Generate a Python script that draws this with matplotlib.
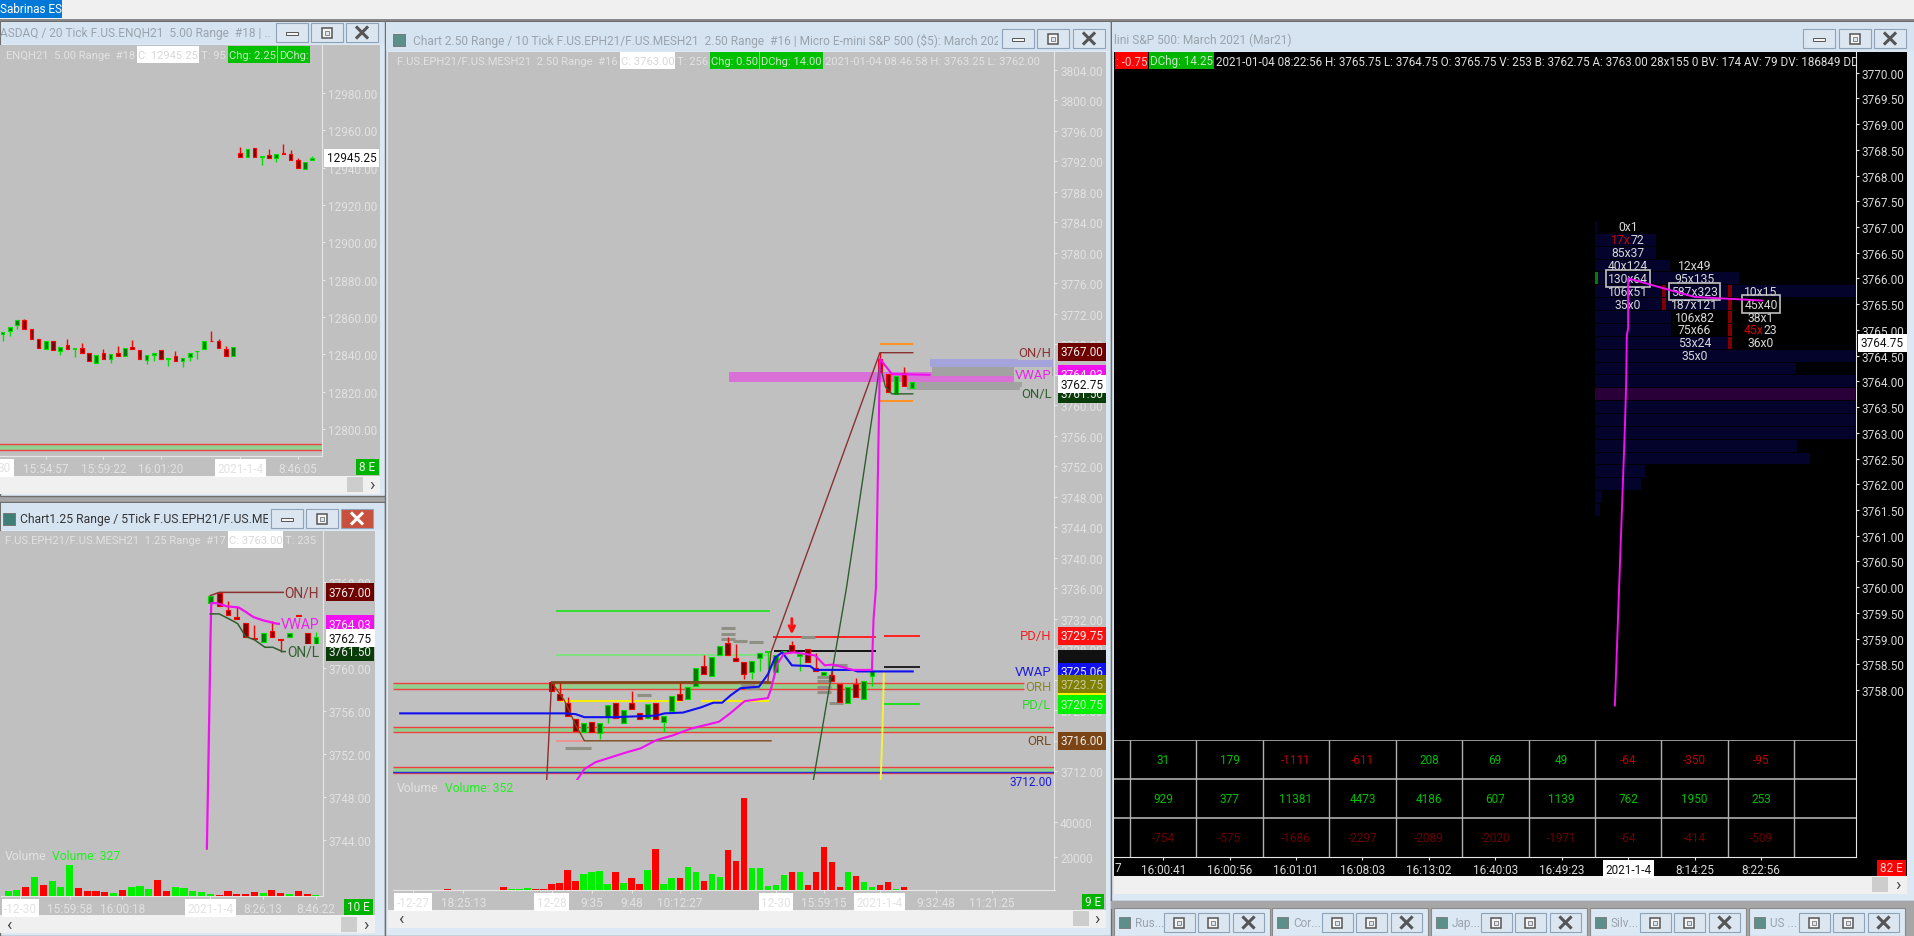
import matplotlib
matplotlib.use("Agg")
import matplotlib.pyplot as plt
from matplotlib.patches import Rectangle

plt.rcParams["font.family"] = ["Roboto", "DejaVu Sans"]

W, H = 1915, 937
CHART_BG = "#c0c0c0"
FRAME = "#dce8f3"
TITLE = "#d6e4f1"
AXIS_LINE = "#e6e6e6"
TICK_TEXT = "#e2e2e2"
UP, UP_DARK = "#00e000", "#007a00"
DOWN, DOWN_DARK = "#ff0000", "#7a0000"
FS = 8.5

# --- NQ window
nq_open = [12851, 12852.7, 12855.5, 12858.6, 12853.4, 12848, 12842.7, 12847, 12842, 12844.8, 12842.9,
           12843.4, 12840.9, 12835.5, 12840.5, 12837.7, 12840.9, 12839.1, 12844.1, 12842.3, 12837, 12839.5,
           12842.3, 12837.3, 12838.9, 12836.3, 12838.4, 12841.6, 12842.7, 12847.3, 12847, 12842.7, 12839.1,
           12948, 12945.5, 12950.7, 12945.7, 12947, 12945.2, 12948, 12947.5, 12943.9, 12939.1, 12943.9]
nq_high = [12852, 12854.8, 12858.2, 12859, 12853.4, 12848, 12847, 12847, 12843.9, 12848.4, 12843.4,
           12846.3, 12840.9, 12839.8, 12843, 12840.4, 12844.5, 12843.4, 12847.5, 12842.3, 12839.5, 12840.9,
           12842.3, 12838, 12841.6, 12838, 12840.9, 12842, 12847, 12852.3, 12848.4, 12844.5, 12843.8,
           12951, 12950.2, 12950.7, 12946.3, 12950.2, 12947.5, 12952.9, 12949.5, 12945.2, 12943, 12946.3]
nq_low = [12847, 12850, 12853.8, 12853.8, 12848.4, 12843.4, 12842.7, 12842.5, 12839.8, 12843, 12838.6,
          12840.9, 12836.3, 12835.5, 12837.7, 12835.5, 12839.1, 12839.1, 12842.7, 12837.3, 12834.8, 12836.6,
          12837.3, 12833.8, 12836.3, 12833.4, 12836.3, 12837.7, 12842.7, 12847, 12843.4, 12839.1, 12839.1,
          12945.9, 12945.5, 12945.9, 12941.6, 12945, 12943, 12947.5, 12944.1, 12939.8, 12939.1, 12943.9]
nq_close = [12852, 12854.8, 12858.2, 12853.8, 12848.4, 12843.4, 12847, 12842.5, 12843.9, 12843, 12843.4,
            12840.9, 12836.3, 12839.8, 12837.7, 12840.4, 12839.1, 12843.4, 12842.7, 12837.3, 12839.5, 12840.9,
            12837.3, 12838, 12836.3, 12838, 12840.9, 12842, 12847, 12847, 12843.4, 12839.1, 12843.8,
            12945.9, 12950.2, 12945.9, 12946.3, 12945, 12947.5, 12947.5, 12944.1, 12939.8, 12943, 12945.4]
nq_ticks = [12980, 12960, 12940, 12920, 12900, 12880, 12860, 12840, 12820, 12800]
nq_xticks = [6, 14, 22, 33, 41]
nq_xlabels = ["15:54:57", "15:59:22", "16:01:20", "2021-1-4", "8:46:05"]

# --- 1.25 range window
r125_start = 23
r125_open = [3766.0, 3766.9, 3765.4, 3764.7, 3764.2, 3762.8, 3762.4, 3763.4, 3762.7, 3762.9, 3764.9, 3763.2, 3762.2]
r125_high = [3766.7, 3767.0, 3766.2, 3765.6, 3764.2, 3764.0, 3763.2, 3764.3, 3762.7, 3763.2, 3764.9, 3763.2, 3763.3]
r125_low = [3766.0, 3765.7, 3764.9, 3764.5, 3762.9, 3762.7, 3762.4, 3762.9, 3761.5, 3762.9, 3764.8, 3762.2, 3762.2]
r125_close = [3766.7, 3765.7, 3764.9, 3764.5, 3762.9, 3762.7, 3763.2, 3762.9, 3762.6, 3763.2, 3764.8, 3762.2, 3762.9]
r125_vol = [1600, 1800, 2800, 5700, 3300, 4500, 2600, 9300, 2400, 1600, 1400, 1100, 800, 1800, 2600, 3000, 2100, 4800,
            1600, 2800, 2400, 1400, 1100, 600, 400, 1400, 700, 700, 1100, 800, 1800, 900, 600, 1400, 600, 327]
r125_up = [1, 1, 0, 1, 0, 1, 1, 1, 0, 0, 0, 0, 1, 0, 1, 1, 1, 0, 0, 1, 1, 1, 1, 1, 0, 0, 0, 0, 0, 1, 0, 0, 1, 0, 0, 1]
r125_vwap_x = [22.6, 22.7, 22.8, 22.9, 23.0, 23.1, 23.7, 24.9, 26.2, 27.0, 27.9, 29.0, 30.5, 31.7]
r125_vwap_y = [3743.2, 3747.7, 3752.3, 3757.0, 3762.3, 3766.0, 3766.0, 3765.7, 3765.6, 3765.2, 3764.7, 3764.4, 3764.1, 3764.03]
r125_onh_x = [23.0, 24.0, 32.0]
r125_onh_y = [3766.7, 3767.0, 3767.0]
r125_onl_x = [23.0, 24.0, 25.2, 26.1, 27.0, 28.0, 29.2, 30.1, 31.2, 32.2]
r125_onl_y = [3765.0, 3765.0, 3764.5, 3764.1, 3762.9, 3762.6, 3761.9, 3761.9, 3761.5, 3761.5]
r125_ticks = [3768, 3760, 3756, 3752, 3748, 3744]
r125_xticks = [1.4, 7, 13, 23, 29, 35]
r125_xlabels = ["-12-30", "15:59:58", "16:00:18", "2021-1-4", "8:26:13", "8:46:22"]

# --- 2.50 range window
r250_start = 19
r250_open = [3723.7, 3722.2, 3721.0, 3718.8, 3717.1, 3718.5, 3717.0, 3719.1, 3721.0, 3718.3, 3721.0, 3719.7, 3719.0, 3721.0,
             3718.5, 3719.9, 3722.2, 3721.5, 3723.2, 3725.8, 3724.5, 3727.3, 3728.8, 3726.8, 3726.3, 3725.0, 3726.8, 3727.6,
             3725.0, 3727.6, 3728.5, 3727.1, 3728.0, 3725.5, 3724.6, 3724.6, 3723.5, 3721.0, 3723.5, 3721.5, 3724.5,
             3766.1, 3764.1, 3761.5, 3764.2, 3762.3]
r250_high = [3723.7, 3723.7, 3721.7, 3718.8, 3718.3, 3718.5, 3718.3, 3720.7, 3721.0, 3720.1, 3722.5, 3719.7, 3720.8, 3721.0,
             3719.3, 3721.9, 3723.7, 3723.0, 3725.5, 3727.2, 3727.0, 3728.4, 3729.6, 3728.7, 3726.3, 3726.5, 3727.5, 3727.8,
             3727.2, 3727.8, 3729.1, 3727.4, 3728.0, 3727.5, 3725.0, 3725.4, 3723.5, 3723.1, 3724.2, 3723.8, 3725.6,
             3767.0, 3764.1, 3763.9, 3765.0, 3763.0]
r250_low = [3722.5, 3721.3, 3719.2, 3717.3, 3717.1, 3717.2, 3716.3, 3718.4, 3719.0, 3718.3, 3720.2, 3718.9, 3719.0, 3718.8,
            3717.1, 3719.9, 3721.4, 3721.5, 3723.2, 3724.8, 3724.5, 3727.3, 3727.2, 3726.5, 3724.1, 3724.1, 3725.2, 3725.4,
            3725.0, 3727.6, 3727.6, 3725.2, 3726.4, 3725.1, 3724.6, 3723.8, 3721.1, 3721.0, 3721.7, 3721.5, 3723.2,
            3764.4, 3761.7, 3761.5, 3762.5, 3762.3]
r250_close = [3722.5, 3721.3, 3719.2, 3717.3, 3718.3, 3717.2, 3718.3, 3720.7, 3719.0, 3720.1, 3720.2, 3718.9, 3720.8, 3718.8,
              3719.3, 3721.9, 3721.4, 3723.0, 3725.5, 3724.8, 3727.0, 3728.4, 3727.2, 3726.5, 3724.8, 3726.5, 3727.5, 3727.8,
              3727.2, 3727.8, 3727.6, 3727.4, 3726.4, 3725.1, 3725.0, 3723.8, 3721.1, 3723.1, 3721.7, 3723.8, 3725.1,
              3764.4, 3761.7, 3763.9, 3762.5, 3763.0]
r250_vol = [760, 760, 760, 570, 380, 950, 1330, 760, 760, 760, 760, 760, 760, 2470, 1520, 1520, 2280, 1330, 1330, 4180, 5130,
            12350, 6080, 9880, 11020, 11970, 4180, 11020, 4750, 7980, 4180, 12350, 24320, 4180, 7600, 7600, 14250, 11020,
            6080, 9880, 8360, 23750, 17480, 53580, 13680, 13300, 3420, 3800, 9500, 11020, 11400, 3800, 11020, 25270, 17100,
            2850, 11020, 8740, 5700, 2660, 3800, 5320, 1520, 2660, 760]
r250_up = [1, 1, 1, 0, 1, 0, 0, 1, 1, 1, 0, 0, 1, 0, 1, 1, 1, 0, 0, 0, 0,
           0, 0, 1, 1, 1, 1, 0, 1, 0, 0, 1, 0, 1, 1, 0, 1, 1,
           0, 1, 1, 0, 0, 0, 1, 1, 1, 1, 1, 0, 1, 0, 0, 0, 0,
           0, 1, 0, 1, 1, 0, 0, 1, 0, 1]
r250_ticks = list(range(3804, 3708, -4))
r250_xticks = [1.7, 8, 19, 24, 29, 35, 47, 53, 60, 67, 74]
r250_xlabels = ["-12-27", "18:25:13", "12-28", "9:35", "9:48", "10:12:27", "12-30", "15:59:15", "2021-1-4", "9:32:48", "11:21:25"]
vwap_x = [22.2, 23.1, 24.5, 26.3, 28.4, 30.1, 32.1, 34.1, 36.4, 39.9, 41.3, 43.1, 46.0, 46.4, 47.2, 48.0, 49.2, 51.9, 53.1, 54.2, 56.6, 59.0, 59.2, 59.5, 60.0, 61.5, 66.2]
vwap_y = [3710.9, 3712.3, 3713.2, 3713.8, 3714.5, 3715.0, 3716.1, 3716.7, 3717.6, 3718.5, 3719.6, 3721.2, 3721.6, 3722.8, 3726.1, 3727.4, 3727.6, 3727.2, 3725.9, 3726.0, 3725.3, 3725.3, 3731.9, 3736.0, 3766.1, 3764.1, 3764.0]
blue_x = [0.1, 20.6, 22.0, 23.1, 26.7, 32.0, 33.1, 35.4, 37.7, 39.2, 40.3, 41.4, 42.6, 44.9, 46.0, 46.9, 47.8, 49.0, 51.3, 51.9, 56.6, 57.2, 64.1]
blue_y = [3719.6, 3719.6, 3719.5, 3719.1, 3719.1, 3719.3, 3719.6, 3719.7, 3720.4, 3721.0, 3721.0, 3722.0, 3722.9, 3723.1, 3724.7, 3726.9, 3727.6, 3725.9, 3725.8, 3725.3, 3725.3, 3725.1, 3725.1]
onh_x = [18.4, 19.0, 46.0, 46.4, 60.0, 64.1]
onh_y = [3710.9, 3723.7, 3723.7, 3727.6, 3766.9, 3766.9]
onl_x = [51.7, 55.8, 60.0, 60.7, 61.5, 64.1]
onl_y = [3710.9, 3735.9, 3765.3, 3762.4, 3761.5, 3761.5]
orl_x = [19.0, 20.6, 22.0, 23.1, 46.4]
orl_y = [3723.7, 3721.3, 3718.1, 3716.0, 3716.0]
band_low = [3763.1, 3765.0, 3763.8, 3762.0]
band_high = [3764.4, 3766.1, 3765.0, 3763.1]
band_from = [41.2, 66.2, 66.5, 63.4]
band_to = [77.1, 81.6, 81.6, 77.7]
band_color = ["#d870d8", "#a4a4da", "#a2a2a2", "#a2a2a2"]
seg_price = [3733.0, 3727.25, 3727.78, 3729.57, 3729.8, 3725.7, 3720.87, 3768.1, 3760.6, 3721.27, 3721.27, 3716.0]
seg_from = [19.5, 19.5, 46.8, 46.6, 60.5, 60.5, 60.5, 60.0, 60.0, 20.1, 37.7, 19.5]
seg_to = [46.3, 46.3, 59.5, 59.5, 65.0, 65.0, 65.0, 64.1, 64.1, 35.3, 46.1, 23.1]
seg_color = ["#30e030", "#80e080", "#111111", "#ff2020", "#ff2020", "#222222", "#20e020", "#ff9020", "#ff9020",
             "#f8f000", "#f8f000", "#f09090"]
level_low = [3722.8, 3717.2, 3711.74]
level_high = [3723.54, 3717.77, 3712.5]
level_end = [78.0, 81.8, 81.8]
grey_x = [41.0, 41.0, 41.0, 42.5, 44.5, 43.0, 43.5, 44.0, 53.0, 53.0, 53.0, 53.0, 55.0, 21.5, 23.0, 30.5, 51.0, 54.5]
grey_y = [3730.8, 3730.0, 3729.4, 3729.1, 3729.0, 3723.7, 3723.3, 3722.9, 3724.4, 3723.8, 3723.0, 3722.4, 3725.9, 3715.1, 3715.1, 3722.0, 3729.6, 3720.9]
yellow_x = [60.1, 60.3, 60.5]
yellow_y = [3711.0, 3716.8, 3725.1]

# --- footprint window
fp_price = [3767, 3766.75, 3766.5, 3766.25, 3766, 3765.75, 3765.5, 3765.25, 3765, 3764.75, 3764.5, 3764.25, 3764, 3763.75,
            3763.5, 3763.25, 3763, 3762.75, 3762.5, 3762.25, 3762, 3761.75, 3761.5]
fp_len = [0.03, 0.92, 0.92, 1.13, 2.17, 3.91, 2.0, 1.15, 1.15, 2.0, 3.91, 3.02, 3.91, 3.91, 3.91, 3.91, 3.91, 3.04, 3.23, 0.76, 0.7, 0.1, 0.07]
fp_col0 = ["0x1", "17x72", "85x37", "40x124", "130x64", "106x51", "35x0"]
fp_col0_price = [3767, 3766.75, 3766.5, 3766.25, 3766, 3765.75, 3765.5]
fp_col1 = ["12x49", "95x135", "587x323", "187x121", "106x82", "75x66", "53x24", "35x0"]
fp_col1_price = [3766.25, 3766, 3765.75, 3765.5, 3765.25, 3765, 3764.75, 3764.5]
fp_col2 = ["10x15", "45x40", "38x1", "45x23", "36x0"]
fp_col2_price = [3765.75, 3765.5, 3765.25, 3765, 3764.75]
fp_red_cells = ["17x72", "45x23"]
fp_vwap_x = [9.02, 8.58, 8.0, 7.0, 7.0, 6.98, 6.97, 6.95, 6.86, 6.8]
fp_vwap_y = [3765.57, 3765.6, 3765.64, 3766.0, 3765.03, 3764.9, 3763.95, 3763.07, 3759.85, 3757.7]
fp_ticks = [3770 - 0.5 * k for k in range(25)]
delta_row = [31, 179, -1111, -611, 208, 69, 49, -64, -350, -95]
volume_row = [929, 377, 11381, 4473, 4186, 607, 1139, 762, 1950, 253]
mindelta_row = [-754, -575, -1686, -2297, -2089, -2020, -1971, -64, -414, -509]
fp_xlabels = ["16:00:41", "16:00:56", "16:01:01", "16:08:03", "16:13:02", "16:40:03", "16:49:23", "2021-1-4", "8:14:25", "8:22:56"]

tab_names = ["Rus...", "Cor...", "Jap...", "Silv...", "US ..."]
tab_left = [1114, 1272, 1431, 1590, 1749]

fig = plt.figure(figsize=(W / 100, H / 100), dpi=100, facecolor="#a6a6a6")
bg = fig.add_axes([0, 0, 1, 1], zorder=0)
bg.set_xlim(0, W)
bg.set_ylim(H, 0)
bg.axis("off")


def pane(left, top, right, bottom, zorder=2):
    ax = fig.add_axes([left / W, 1 - bottom / H, (right - left) / W, (bottom - top) / H], zorder=zorder)
    ax.patch.set_alpha(0)
    for side in ["top", "left"]:
        ax.spines[side].set_visible(False)
    ax.spines["right"].set_color(AXIS_LINE)
    ax.spines["bottom"].set_color(AXIS_LINE)
    ax.yaxis.tick_right()
    ax.tick_params(axis="both", colors=AXIS_LINE, labelcolor=TICK_TEXT, labelsize=FS, length=2, pad=2, width=0.8)
    return ax


def rect(x0, y0, x1, y1, color, ec="none", lw=0, z=1):
    bg.add_patch(Rectangle((x0, y0), x1 - x0, y1 - y0, facecolor=color, edgecolor=ec, linewidth=lw, zorder=z))


def button(bx, by, kind, face="#dbe6f1", w=32, h=19):
    rect(bx, by, bx + w, by + h, face, ec="#8fa3b8", lw=0.8, z=4)
    cx, cy = bx + w / 2, by + h / 2
    if kind == 0:
        rect(cx - 6, cy - 1, cx + 6, cy + 2, "#f4f4f4", ec="#555555", lw=0.7, z=5)
    elif kind == 1:
        rect(cx - 5, cy - 5, cx + 5, cy + 5, "#f4f4f4", ec="#555555", lw=1.1, z=5)
        rect(cx - 2, cy - 2, cx + 2, cy + 2, face, ec="#777777", lw=0.6, z=6)
    else:
        mark = "white" if face != "#dbe6f1" else "#555555"
        bg.plot([cx - 5, cx + 5], [cy - 5, cy + 5], color=mark, lw=2.2, zorder=5)
        bg.plot([cx - 5, cx + 5], [cy + 5, cy - 5], color=mark, lw=2.2, zorder=5)


def window(x0, y0, x1, y1, chart_top, chart_bottom, chart_right, title, title_x, title_y, title_end, title_color, btn_x, btn_y,
           chart_color=CHART_BG, close_color=None, title_size=8.6):
    rect(x0, y0, x1, y1, FRAME, ec="#6e6e6e", lw=1)
    rect(x0 + 1, y0 + 1, x1 - 1, chart_top - 1, TITLE)
    t = bg.text(title_x, title_y, title, color=title_color, fontsize=title_size, va="center", zorder=3)
    t.set_clip_path(Rectangle((0, 0), title_end, H, transform=bg.transData))
    t.set_clip_on(True)
    for k, bx in enumerate(btn_x):
        button(bx, btn_y, k, close_color if (k == 2 and close_color) else "#dbe6f1")
    left = x0 + 3 if x0 else 0
    rect(left, chart_top, chart_right, chart_bottom, chart_color, z=1.5)
    rect(left, chart_bottom, chart_right, chart_bottom + 18, "#f0f0f0", z=1.5)


def scroll_marks(right_x, y, left_x=None, thumb_x=None):
    if thumb_x:
        rect(thumb_x, y + 1, thumb_x + 16, y + 16, "#cdcdcd", z=2)
    bg.text(right_x, y + 8, "›", color="#444444", fontsize=13, ha="center", va="center", zorder=3)
    if left_x:
        bg.text(left_x, y + 8, "‹", color="#444444", fontsize=13, ha="center", va="center", zorder=3)


def candles(ax, opens, highs, lows, closes, start=0, width=0.55):
    for k in range(len(opens)):
        x = start + k
        up = closes[k] >= opens[k]
        bright = UP if up else DOWN
        dark = UP_DARK if up else DOWN_DARK
        ax.vlines(x, lows[k], highs[k], color=bright, linewidth=1.0, zorder=4)
        ax.bar(x, abs(closes[k] - opens[k]), bottom=min(opens[k], closes[k]), width=width,
               color=dark, edgecolor=bright, linewidth=0.8, zorder=5)


def volume(ax, values, ups):
    colors = ["#00f000" if u else "#ff0000" for u in ups]
    ax.bar(range(len(values)), values, width=0.8, color=colors, zorder=3)


def tag(ax, price, label, bg_color, fg="#eeeeee", z=8, dx=6):
    ax.annotate(label, xy=(1, price), xycoords=("axes fraction", "data"), xytext=(dx, 0), textcoords="offset pixels",
                color=fg, fontsize=FS, ha="left", va="center", zorder=z, annotation_clip=False,
                bbox=dict(boxstyle="square,pad=0.22", facecolor=bg_color, edgecolor="none"))


def line_label(ax, price, label, color, dx=-3, size=FS + 0.9, z=7):
    ax.annotate(label, xy=(1, price), xycoords=("axes fraction", "data"), xytext=(dx, 0), textcoords="offset pixels",
                color=color, fontsize=size, ha="right", va="center", zorder=z, annotation_clip=False,
                bbox=dict(boxstyle="square,pad=0.05", facecolor=CHART_BG, edgecolor="none"))


def style_xlabels(ax, ticks, labels, color=TICK_TEXT):
    ax.set_xticks(ticks)
    ax.set_xticklabels(labels)
    for t in ax.get_xticklabels():
        txt = t.get_text()
        t.set_color(color)
        if "-" in txt:
            t.set_bbox(dict(boxstyle="square,pad=0.2", facecolor="white", edgecolor="none"))
        if txt == "2021-1-4" and color != TICK_TEXT:
            t.set_color("#111111")


def header(x, y, parts, clip_right, size=8.1):
    renderer = fig.canvas.get_renderer()
    for text, face, color in parts:
        t = bg.text(x, y, text, fontsize=size, color=color, va="center", ha="left", zorder=6)
        t.set_clip_path(Rectangle((0, 0), clip_right, H, transform=bg.transData))
        t.set_clip_on(True)
        width = t.get_window_extent(renderer).width
        if face:
            rect(x - 1, y - 9, x + width + 1, y + 8, face, z=5)
        x += width + 3


# background strips
rect(0, 0, W, 20, "#f0f0f0")
rect(0, 19.5, W, 22, "#8a8a8a")
rect(0, 0, 62, 19, "#0078d7", z=2)
bg.text(0, 9.5, "Sabrinas ES", color="white", fontsize=8.5, va="center", zorder=3)

# window frames
window(0, 22, 389, 497, 46, 477, 380, "ASDAQ / 20 Tick F.US.ENQH21  5.00 Range  #18 | ...", 0, 34, 272, "#9aa3ad", [276, 311, 346], 24)
window(0, 503, 385, 937, 532, 916, 375, "Chart1.25 Range / 5Tick F.US.EPH21/F.US.MES...", 20, 520, 268, "#333333", [271, 306, 341], 510,
       close_color="#c9503c", title_size=8.7)
window(385, 22, 1111, 937, 53, 911, 1106, "Chart 2.50 Range / 10 Tick F.US.EPH21/F.US.MESH21  2.50 Range  #16 | Micro E-mini S&P 500 ($5): March 202...", 413, 40.5, 998, "#9aa3ad", [1002, 1037, 1073], 30)
window(1111, 22, 1915, 902, 53, 877, 1907, "lini S&P 500: March 2021 (Mar21)", 1114, 40.5, 1500, "#9aa3ad", [1803, 1839, 1874], 30, chart_color="#000000")
bg.add_patch(Rectangle((393, 35), 12, 12, facecolor="#5c8f8a", edgecolor="#777777", linewidth=0.7, zorder=3))
bg.add_patch(Rectangle((3, 514), 12, 12, facecolor="#3f7f78", edgecolor="#777777", linewidth=0.7, zorder=3))
scroll_marks(372, 477, thumb_x=347)
scroll_marks(366, 917, left_x=9, thumb_x=341)
scroll_marks(1097, 911, left_x=401, thumb_x=1073)
scroll_marks(1898, 877, thumb_x=1872)

# minimised windows
rect(1111, 902, W, 910, "#a6a6a6", z=2)
for name, left in zip(tab_names, tab_left):
    rect(left, 909, left + 156, 937, FRAME, ec="#8a8a8a", lw=0.8, z=3)
    rect(left + 5, 918, left + 16, 929, "#5c8f8a", ec="#777777", lw=0.6, z=4)
    bg.text(left + 21, 924, name, color="#9aa3ad", fontsize=FS, va="center", zorder=4)
    for kind, off in zip([1, 1, 2], [50, 84, 119]):
        button(left + off, 914, kind, h=19, w=31)

# --- NQ chart
ax_nq = pane(0, 46, 322, 457)
ax_nq.set_xlim(-0.37, 44.35)
ax_nq.set_ylim(12785.6, 13005.7)
candles(ax_nq, nq_open, nq_high, nq_low, nq_close, width=0.5)
ax_nq.axhspan(12788.6, 12791.8, facecolor="#90d090", edgecolor="none", zorder=2)
ax_nq.axhline(12791.8, color="#f04040", lw=1)
ax_nq.axhline(12788.6, color="#f04040", lw=1)
ax_nq.set_yticks(nq_ticks)
ax_nq.set_yticklabels([f"{t:.2f}" for t in nq_ticks])
style_xlabels(ax_nq, nq_xticks, nq_xlabels)
tag(ax_nq, 12945.25, "12945.25", "white", fg="#111111", dx=5)
bg.text(4, 469, "30", color=TICK_TEXT, fontsize=FS, ha="center", va="center", zorder=6,
        bbox=dict(boxstyle="square,pad=0.25", facecolor="white", edgecolor="none"))
rect(356, 460, 379, 476, "#00b400", z=3)
bg.text(367, 468, "8 E", color="#eeeeee", fontsize=FS, ha="center", va="center", zorder=4)
header(3, 56, [(".ENQH21  5.00 Range  #18", None, TICK_TEXT), ("C: 12945.25", "white", "#d8d8d8"),
               ("T: 95", None, TICK_TEXT), ("Chg: 2.25", "#00c000", "#c8e8c8"), ("DChg:", "#00c000", "#c8e8c8")], 322)

# --- 1.25 range chart
ax_a = pane(1, 532, 323, 897)
ax_a.set_xlim(-0.8, 35.8)
ax_a.set_ylim(3738.8, 3772.7)
candles(ax_a, r125_open, r125_high, r125_low, r125_close, start=r125_start)
ax_a.plot(r125_vwap_x, r125_vwap_y, color="#f010f0", lw=1.6, zorder=6)
ax_a.plot(r125_onh_x, r125_onh_y, color="#8a3030", lw=1.1, zorder=6)
ax_a.plot(r125_onl_x, r125_onl_y, color="#2e5e2e", lw=1.1, zorder=6)
ax_a.spines["bottom"].set_visible(False)
ax_a.set_yticks(r125_ticks)
ax_a.set_yticklabels([f"{t:.2f}" for t in r125_ticks])
ax_a.set_xticks([])
line_label(ax_a, 3767.0, "ON/H", "#8a3030", dx=-4, size=FS + 1.4)
line_label(ax_a, 3764.03, "VWAP", "#f020f0", dx=-4, size=FS + 1.4)
line_label(ax_a, 3761.5, "ON/L", "#2e5e2e", dx=-4, size=FS + 1.4)
tag(ax_a, 3767.0, "3767.00", "#6f0000")
tag(ax_a, 3764.03, "3764.03", "#f010f0")
tag(ax_a, 3762.75, "3762.75", "white", fg="#111111", z=9)
tag(ax_a, 3761.5, "3761.50", "#0a3c0a")
ax_av = pane(1, 860, 323, 897, zorder=3)
ax_av.set_xlim(-0.8, 35.8)
ax_av.set_ylim(0, 11100)
volume(ax_av, r125_vol, r125_up)
ax_av.set_yticks([])
ax_av.spines["right"].set_visible(False)
style_xlabels(ax_av, r125_xticks, r125_xlabels)
bg.text(5, 857, "Volume", color=TICK_TEXT, fontsize=FS + 0.3, va="center", zorder=6)
bg.text(52, 857, "Volume: 327", color="#20f020", fontsize=FS + 0.3, va="center", zorder=6)
rect(344, 900, 373, 916, "#00b400", z=3)
bg.text(358.5, 908, "10 E", color="#eeeeee", fontsize=FS, ha="center", va="center", zorder=4)
header(5, 541, [("F.US.EPH21/F.US.MESH21  1.25 Range  #17", None, TICK_TEXT), ("C: 3763.00", "white", "#d8d8d8"), ("T: 235", None, TICK_TEXT)], 323)

# --- 2.50 range chart
ax_c = pane(393, 52.5, 1054.5, 780.7)
ax_c.set_xlim(-0.8, 81.8)
ax_c.set_ylim(3710.9, 3806.4)
for lo, hi, a, b, c in zip(band_low, band_high, band_from, band_to, band_color):
    ax_c.fill_between([a, b], lo, hi, color=c, lw=0, zorder=2)
for lo, hi, end in zip(level_low, level_high, level_end):
    ax_c.fill_between([-0.8, end], lo, hi, color="#90d090", lw=0, zorder=2)
    ax_c.hlines([lo, hi], -0.8, end, color="#f04040", lw=1, zorder=3)
ax_c.axhline(3711.9, color="#2030e0", lw=1, zorder=3)
ax_c.hlines(seg_price, seg_from, seg_to, colors=seg_color, linewidth=1.4, zorder=3)
ax_c.scatter(grey_x, grey_y, marker="_", s=90, color="#8f8f84", linewidth=2.2, zorder=3)
candles(ax_c, r250_open, r250_high, r250_low, r250_close, start=r250_start, width=0.6)
ax_c.plot(onh_x, onh_y, color="#8a3030", lw=1.0, zorder=6)
ax_c.plot(onl_x, onl_y, color="#2e5e2e", lw=1.0, zorder=6)
ax_c.plot(orl_x, orl_y, color="#7a4a18", lw=1.0, zorder=6)
ax_c.hlines(3723.7, 19.0, 46.4, color="#7a4a18", lw=1.8, zorder=6)
ax_c.plot(yellow_x, yellow_y, color="#f8f040", lw=1.4, zorder=6)
ax_c.plot(blue_x, blue_y, color="#1010f0", lw=1.5, zorder=6)
ax_c.plot(vwap_x, vwap_y, color="#f010f0", lw=1.5, zorder=7)
ax_c.annotate("", xy=(49, 3729.6), xytext=(49, 3732.4), zorder=8,
              arrowprops=dict(arrowstyle="->", color="#ff1010", lw=2))
ax_c.spines["bottom"].set_visible(False)
ax_c.set_xticks([])
ax_c.set_yticks(r250_ticks)
ax_c.set_yticklabels([f"{t:.2f}" for t in r250_ticks])
line_label(ax_c, 3766.9, "ON/H", "#8a3030", z=7)
line_label(ax_c, 3764.03, "VWAP", "#f020f0", z=7)
line_label(ax_c, 3761.5, "ON/L", "#2e5e2e", z=7)
line_label(ax_c, 3729.75, "PD/H", "#f02020", z=7)
line_label(ax_c, 3725.06, "VWAP", "#1a1ae0", z=7)
line_label(ax_c, 3723.1, "ORH", "#8a8a20", z=7)
line_label(ax_c, 3720.75, "PD/L", "#20e020", z=7)
line_label(ax_c, 3716.0, "ORL", "#7a4a18", z=7)
ax_c.annotate("3712.00", xy=(1, 3711.0), xycoords=("axes fraction", "data"), xytext=(-2, -3), textcoords="offset pixels",
              color="#1a1ae0", fontsize=FS, ha="right", va="center", annotation_clip=False, zorder=7)
tag(ax_c, 3767.0, "3767.00", "#6f0000")
tag(ax_c, 3764.03, "3764.03", "#f010f0")
tag(ax_c, 3762.75, "3762.75", "white", fg="#111111", z=9)
tag(ax_c, 3761.5, "3761.50", "#0a3c0a")
tag(ax_c, 3729.75, "3729.75", "#ff1010")
tag(ax_c, 3722.1, "3722.00", "#f8f000", fg="#f8f000")
tag(ax_c, 3726.7, "3726.00", "#111111", fg="#111111")
tag(ax_c, 3725.06, "3725.06", "#1010f0")
tag(ax_c, 3723.45, "3723.75", "#808000", fg="#c8c8a0")
tag(ax_c, 3720.75, "3720.75", "#00f000", fg="#c8e8c8")
tag(ax_c, 3716.0, "3716.00", "#7a4414")
ax_cv = pane(393, 781, 1054.5, 891, zorder=3)
ax_cv.set_xlim(-0.8, 81.8)
ax_cv.set_ylim(970, 63830)
volume(ax_cv, r250_vol, r250_up)
ax_cv.set_yticks([20000, 40000])
ax_cv.set_yticklabels(["20000", "40000"])
style_xlabels(ax_cv, r250_xticks, r250_xlabels)
bg.text(397, 789, "Volume", color=TICK_TEXT, fontsize=FS + 0.3, va="center", zorder=6)
bg.text(445, 789, "Volume: 352", color="#20f020", fontsize=FS + 0.3, va="center", zorder=6)
rect(1082, 895, 1104, 910, "#00b400", z=3)
bg.text(1093, 902.5, "9 E", color="#eeeeee", fontsize=FS, ha="center", va="center", zorder=4)
header(397, 62, [("F.US.EPH21/F.US.MESH21  2.50 Range  #16", None, TICK_TEXT), ("C: 3763.00", "white", "#d8d8d8"),
                 ("T: 256", None, TICK_TEXT), ("Chg: 0.50", "#00c000", "#c8e8c8"), ("DChg: 14.00", "#00c000", "#c8e8c8"),
                 ("2021-01-04 08:46:58 H: 3763.25 L: 3762.00", None, TICK_TEXT)], 1056)

# --- footprint chart
ax_f = pane(1114, 53, 1856, 741)
ax_f.set_xlim(-0.74, 10.43)
ax_f.set_ylim(3757.03, 3770.4)
ax_f.spines["bottom"].set_visible(False)
for price, length in zip(fp_price, fp_len):
    face = "#2a0038" if price == 3763.75 else "#03032c"
    ax_f.barh(price, length, left=6.5, height=0.23, color=face, zorder=2)
ax_f.barh([3765.75, 3765.5], 0.06, left=7.51, height=0.23, color="#800000", zorder=3)
ax_f.barh([3765.75, 3765.5, 3765.25, 3765, 3764.75], 0.06, left=8.5, height=0.23, color="#800000", zorder=3)
ax_f.barh(3766, 0.05, left=6.5, height=0.23, color="#008000", zorder=3)
for col, labels, prices in [(7, fp_col0, fp_col0_price), (8, fp_col1, fp_col1_price), (9, fp_col2, fp_col2_price)]:
    for label, price in zip(labels, prices):
        if label in fp_red_cells:
            bid, ask = label.split("x")
            ax_f.text(col + 0.04, price, bid + "x", color="#d00000", fontsize=FS + 0.2, ha="right", va="center", zorder=4)
            ax_f.text(col + 0.04, price, ask, color="#d8d8d8", fontsize=FS + 0.2, ha="left", va="center", zorder=4)
            continue
        box = None
        if label in ("130x64", "587x323", "45x40"):
            box = dict(boxstyle="square,pad=0.18", facecolor="none", edgecolor="#c0c0c0", linewidth=1.2)
        ax_f.text(col, price, label, color="#d8d8d8", fontsize=FS + 0.2, ha="center", va="center", zorder=4, bbox=box)
ax_f.plot(fp_vwap_x, fp_vwap_y, color="#f010f0", lw=1.4, zorder=6)
ax_f.set_xticks([])
ax_f.set_yticks(fp_ticks)
ax_f.set_yticklabels([f"{t:.2f}" for t in fp_ticks], color="#d8d8d8")
tag(ax_f, 3764.75, "3764.75", "white", fg="#111111", dx=5)

ax_t = pane(1114, 741, 1856, 858, zorder=3)
ax_t.set_xlim(-0.74, 10.43)
ax_t.set_ylim(3, 0)
ax_t.set_yticks([])
ax_t.hlines([0, 1, 2], -0.74, 10.43, color="#b0b0b0", lw=1.2)
ax_t.vlines([k - 0.5 for k in range(11)], 0, 3, color="#b0b0b0", lw=1)
for row, values in enumerate([delta_row, volume_row, mindelta_row]):
    for col, v in enumerate(values):
        if v >= 0:
            color = "#00c000"
        else:
            color = "#c00000" if row == 0 else "#6a0000"
        ax_t.text(col, row + 0.5, str(v), color=color, fontsize=FS, ha="center", va="center")
style_xlabels(ax_t, list(range(10)), fp_xlabels, color="#d8d8d8")
bg.text(1115, 869, "7", color="#d8d8d8", fontsize=FS, va="center", zorder=6)
rect(1877, 861, 1906, 877, "#ff0000", z=3)
bg.text(1891.5, 869, "82 E", color="#f0d0d0", fontsize=FS, ha="center", va="center", zorder=4)
header(1116, 62, [(": -0.75", "#ff0000", "#e8c0c0"), ("DChg: 14.25", "#00b400", "#c8e8c8"),
                  ("2021-01-04 08:22:56 H: 3765.75 L: 3764.75 O: 3765.75 V: 253 B: 3762.75 A: 3763.00 28x155 0 BV: 174 AV: 79 DV: 186849 DD", None, "#e0e0e0")],
       1856, size=8.35)

fig.savefig("out.png", dpi=100, facecolor=fig.get_facecolor())
plt.close(fig)
